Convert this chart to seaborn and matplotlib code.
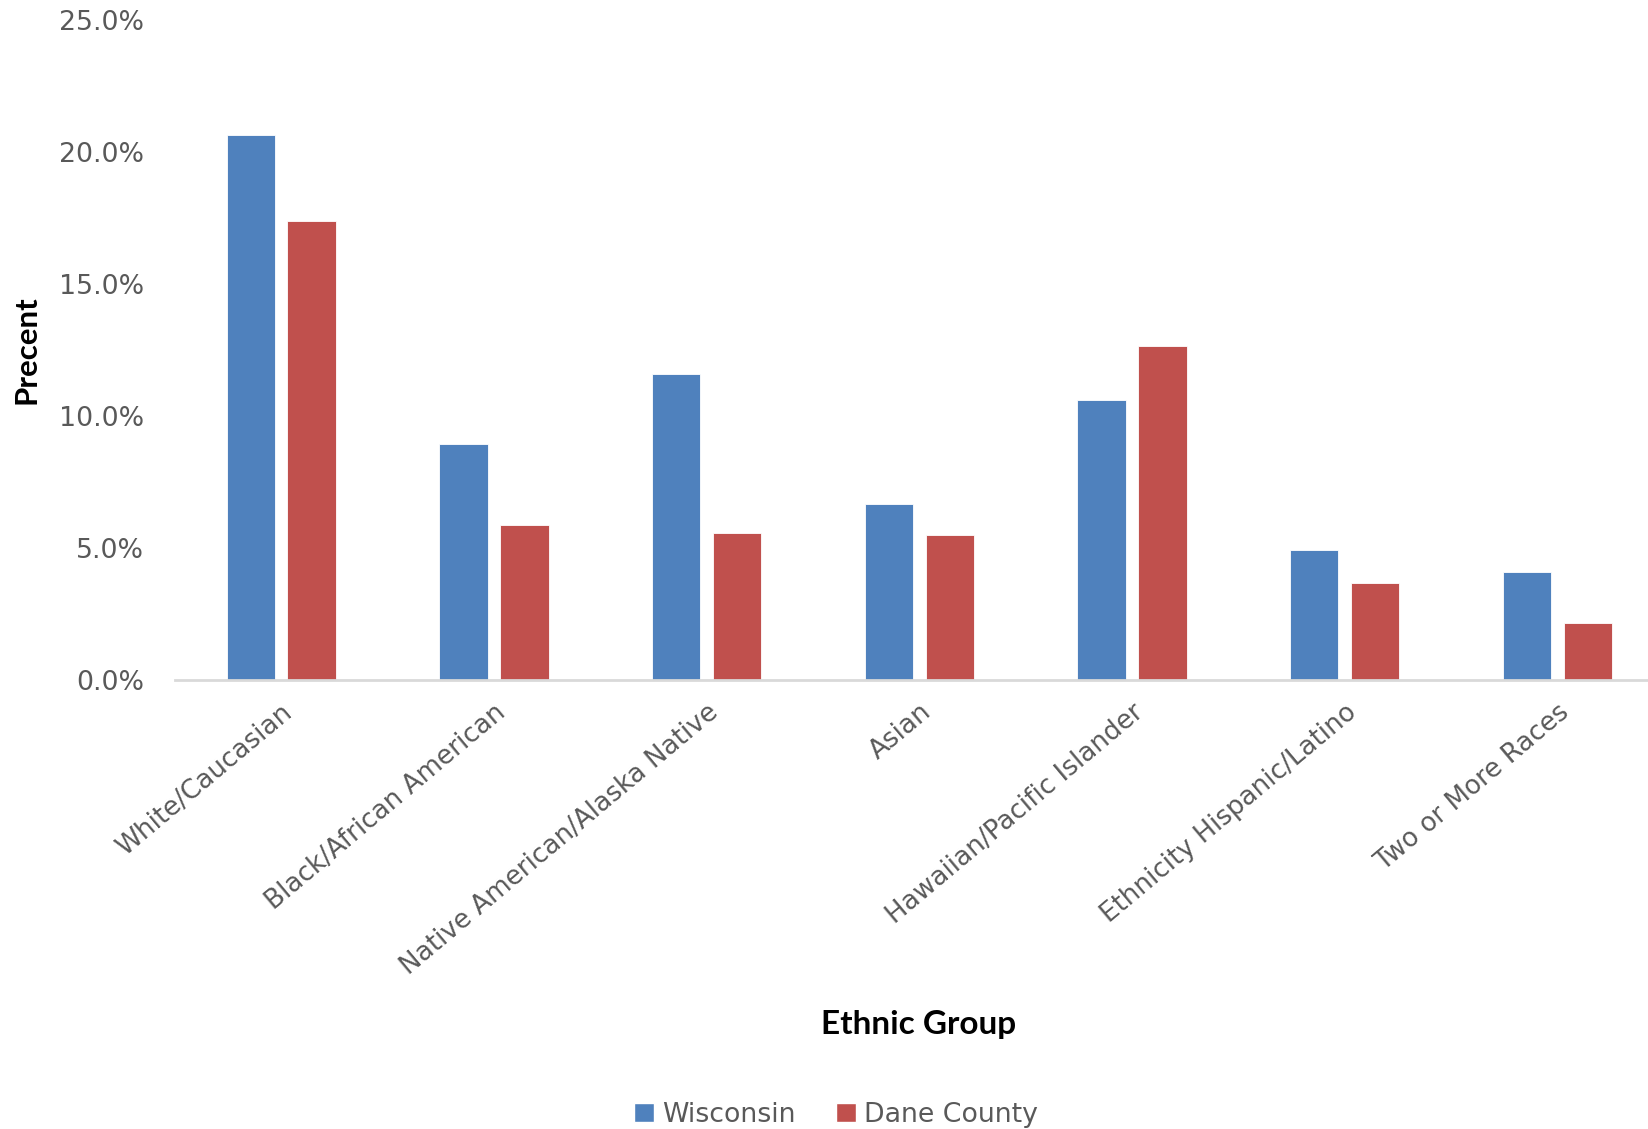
import pandas as pd
import matplotlib.pyplot as plt
import seaborn as sb
from matplotlib.ticker import FuncFormatter
from matplotlib.patches import Patch

# Ethnic groups, percent of population
groups = ['White/Caucasian', 'Black/African American', 'Native American/Alaska Native',
          'Asian', 'Hawaiian/Pacific Islander', 'Ethnicity Hispanic/Latino', 'Two or More Races']
wisconsin = [20.65, 8.95, 11.6, 6.65, 10.6, 4.9, 4.1]
dane = [17.4, 5.85, 5.55, 5.5, 12.65, 3.65, 2.15]
series = ['Wisconsin', 'Dane County']
colors = ['#4F81BD', '#C0504D']

df = pd.DataFrame({'group': groups * 2,
                   'value': wisconsin + dane,
                   'area': [series[0]] * len(groups) + [series[1]] * len(groups)})

sb.set_theme(style='white')
plt.rcParams['font.family'] = ['DejaVu Sans']

fig = plt.figure(figsize=(16.49, 11.29), dpi=100)
ax = fig.add_axes([0.106, 0.398, 0.894, 0.584])

sb.barplot(data=df, x='group', y='value', hue='area', palette=colors,
           width=0.573, gap=0.207, ax=ax, legend=False, saturation=1,
           edgecolor='white', linewidth=0.6)

ax.set_ylim(0, 25)
ax.set_yticks([0, 5, 10, 15, 20, 25])
ax.yaxis.set_major_formatter(FuncFormatter(lambda v, p: f'{v:.1f}%'))
ax.set_xlim(-0.5, 6.43)

for s in ['top', 'right', 'left']:
    ax.spines[s].set_visible(False)
ax.spines['bottom'].set_color('#D9D9D9')
ax.spines['bottom'].set_linewidth(2)

ax.tick_params(axis='y', length=0, pad=22, labelsize=19.3, labelcolor='#595959')
ax.tick_params(axis='x', length=0, pad=14, labelsize=18.8, labelcolor='#595959')
for lab in ax.get_xticklabels():
    lab.set_rotation(40)
    lab.set_ha('right')
    lab.set_rotation_mode('anchor')

ax.set_xlabel('')
ax.set_ylabel('')
fig.text(0.557, 0.093, 'Ethnic Group', ha='center', va='center',
         fontsize=24, fontweight='bold', family='Lato', color='black')
fig.text(0.016, 0.69, 'Precent', ha='center', va='center', rotation=90,
         fontsize=22.5, fontweight='bold', family='Lato', color='black')

handles = [Patch(facecolor=c, label=s) for c, s in zip(colors, series)]
fig.legend(handles=handles, loc='center', bbox_to_anchor=(0.507, 0.0125), ncol=2,
           frameon=False, fontsize=19.3, handlelength=0.75, handleheight=0.75,
           handletextpad=0.3, columnspacing=1.5, labelcolor='#595959')

plt.savefig('out.png', dpi=100)
